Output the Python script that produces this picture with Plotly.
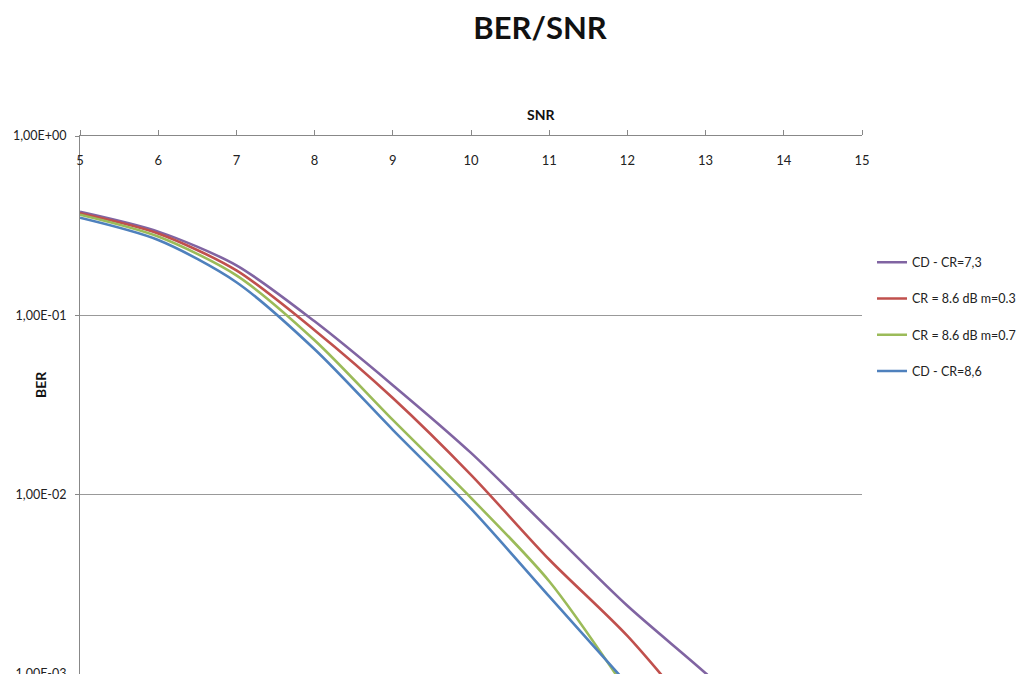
import plotly.graph_objects as go

snr = [5, 6, 7, 8, 9, 10, 11, 12, 13, 14]
ber_cd_73 = [0.378, 0.293, 0.190, 0.0926, 0.0408, 0.0171, 0.0064, 0.0024, 0.00101, 0.0004]
ber_cr86_m03 = [0.371, 0.286, 0.178, 0.0826, 0.0346, 0.0129, 0.00435, 0.00163, 0.0005]
ber_cr86_m07 = [0.364, 0.275, 0.167, 0.0726, 0.0261, 0.0096, 0.00329, 0.0008]
ber_cd_86 = [0.350, 0.263, 0.153, 0.0647, 0.0230, 0.00836, 0.00271, 0.00088]

series_names = ["CD - CR=7,3", "CR = 8.6 dB m=0.3", "CR = 8.6 dB m=0.7", "CD - CR=8,6"]
series_values = [ber_cd_73, ber_cr86_m03, ber_cr86_m07, ber_cd_86]
colors = ["#8064A2", "#C0504D", "#9BBB59", "#4F81BD"]

y_tickvals = [1, 0.1, 0.01, 0.001]
y_ticktext = ["1,00E+00", "1,00E-01", "1,00E-02", "1,00E-03"]
x_tickvals = list(range(5, 16))

FONT = "Lato, Carlito, Calibri, sans-serif"

# The page body has an 8px margin, so the figure is sized to fit the window.
W, H = 1016, 666

fig = go.Figure()
for i, (name, vals, col) in enumerate(zip(series_names, series_values, colors)):
    fig.add_trace(go.Scatter(
        x=snr[:len(vals)], y=vals, name=name, mode="lines",
        line=dict(color=col, width=2.6, shape="spline", smoothing=0.8),
        legendgroup=f"g{i}",
    ))

fig.update_layout(
    width=W, height=H,
    margin=dict(l=72, r=162, t=128, b=0),
    paper_bgcolor="white", plot_bgcolor="white",
    font=dict(family=FONT, color="#222", size=12),
    title=dict(text="<b>BER/SNR</b>", x=532 / W, xanchor="center", y=1 - 20 / H, yanchor="middle",
               font=dict(size=31, family=FONT, color="#111")),
    showlegend=True,
    legend=dict(x=1.0128, xanchor="left", y=0.7926, yanchor="top",
                font=dict(size=12.5, family=FONT, color="#222"),
                tracegroupgap=17, traceorder="grouped", itemwidth=30,
                bgcolor="rgba(0,0,0,0)"),
    xaxis=dict(side="top", range=[5, 15], tickvals=x_tickvals, ticks="outside", ticklen=5,
               tickcolor="#888", showline=True, linecolor="#888", linewidth=1,
               showgrid=False, zeroline=False, ticklabelposition="inside",
               ticklabelstandoff=20, ticklabeloverflow="allow", automargin=False,
               tickfont=dict(size=13, family=FONT, color="#222")),
    yaxis=dict(type="log", range=[-3, 0], tickvals=y_tickvals, ticktext=y_ticktext,
               ticks="outside", ticklen=4, tickcolor="#888", showline=True, linecolor="#888",
               linewidth=1, showgrid=True, gridcolor="#999", gridwidth=1, zeroline=False,
               automargin=False, ticklabeloverflow="allow", ticklabelstandoff=6,
               tickfont=dict(size=12.5, family=FONT, color="#222")),
)

fig.add_annotation(text="<b>SNR</b>", xref="paper", yref="paper", x=(541 - 80) / 782,
                   y=1 + (133 - 112) / 538, showarrow=False, xanchor="center", yanchor="middle",
                   font=dict(size=14, family=FONT, color="#111"))
fig.add_annotation(text="<b>BER</b>", xref="paper", yref="paper", x=(40 - 80) / 782,
                   y=(672 - 383) / 538, showarrow=False, xanchor="center", yanchor="middle",
                   textangle=-90, font=dict(size=14, family=FONT, color="#111"))

fig.write_html("out.html")
